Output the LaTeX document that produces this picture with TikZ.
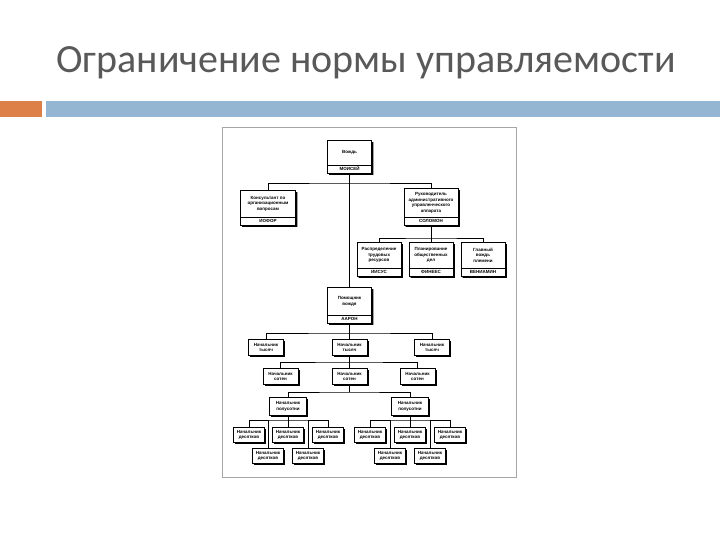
\documentclass[tikz,border=0pt]{standalone}
\usepackage{fontspec}
\setsansfont{Liberation Sans}
\newfontfamily\titlefont{Carlito}
\usetikzlibrary{shapes.multipart,shadows}
\definecolor{titlegray}{RGB}{89,89,89}
\definecolor{barorange}{RGB}{221,128,71}
\definecolor{barblue}{RGB}{148,182,210}
\newcommand{\upart}[3]{\parbox[c][#1pt][c]{#2pt}{\centering #3}}
\newcommand{\npart}[1]{\nodepart{two}\rule[-1.8pt]{0pt}{6pt}#1}

\begin{document}
\begin{tikzpicture}[x=1pt,y=-1pt,
		chart/.style={font=\sffamily\bfseries\fontsize{4.5}{5.5}\selectfont},
		shade/.style={drop shadow={shadow xshift=1.8pt,shadow yshift=-1.8pt,opacity=1,fill=black}},
		unit/.style={chart,shade,draw,line width=0.7pt,fill=white,rectangle split,rectangle split parts=2,inner sep=0.6pt,anchor=north},
		post/.style={chart,shade,draw,line width=0.7pt,fill=white,align=center,inner sep=0.4pt,minimum width=35,minimum height=16,anchor=north},
		link/.style={line width=0.6pt}]
		\useasboundingbox (0,0) rectangle (720,540);
		% Title and bars
		\node[anchor=base west,inner sep=0,text=titlegray,font=\titlefont\fontsize{40}{48}\selectfont] (title) at (56,73) {Ограничение нормы управляемости};
		\fill[barorange] (0,101) rectangle (42,117);
		\fill[barblue] (46,101) rectangle (720,117);
		% Frame of the chart
		\draw[gray!70,line width=0.6pt] (222,127) rectangle (516,477);
		% Top units
		\node[unit] (vozhd) at (349.5,140) {\upart{23}{43}{Вождь}\npart{МОИСЕЙ}};
		\node[unit] (konsult) at (268,190) {\upart{25}{54}{Консультант по\\организационным\\вопросам}\npart{ИОФОР}};
		\node[unit] (rukov) at (431,188) {\upart{27}{53}{Руководитель\\административного\\управленческого\\аппарата}\npart{СОЛОМОН}};
		\node[unit] (raspr) at (379,242) {\upart{24}{43}{Распределение\\трудовых\\ресурсов}\npart{ИИСУС}};
		\node[unit] (plan) at (431,242) {\upart{24}{43}{Планирование\\общественных\\дел}\npart{ФИНЕЕС}};
		\node[unit] (glavn) at (483,242) {\upart{24}{43}{Главный\\вождь\\племени}\npart{ВЕНИАМИН}};
		\node[unit] (pomosh) at (349.5,287) {\upart{26}{43}{Помощник\\вождя}\npart{ААРОН}};
		% Chiefs
		\node[post] (tys1) at (266,339) {Начальник\\тысяч};
		\node[post] (tys2) at (349.5,339) {Начальник\\тысяч};
		\node[post] (tys3) at (432,339) {Начальник\\тысяч};
		\node[post] (sot1) at (280.5,368) {Начальник\\сотен};
		\node[post] (sot2) at (349.5,368) {Начальник\\сотен};
		\node[post] (sot3) at (417.5,368) {Начальник\\сотен};
		\node[post,minimum width=37,minimum height=18] (pol1) at (288,397) {Начальник\\полусотни};
		\node[post,minimum width=37,minimum height=18] (pol2) at (410,397) {Начальник\\полусотни};
		\foreach \n/\x/\y in {1/249/427,2/268/448,3/288/427,4/308/448,5/328/427}
			\node[post,minimum width=31,minimum height=15] (dl\n) at (\x,\y) {Начальник\\десятков};
		\foreach \n/\x/\y in {1/370/427,2/390/448,3/410/427,4/430/448,5/450/427}
			\node[post,minimum width=31,minimum height=15] (dr\n) at (\x,\y) {Начальник\\десятков};
		% Connectors
		\coordinate (busA) at (349.5,183);
		\coordinate (busB) at (431,238);
		\coordinate (busC) at (349.5,333);
		\coordinate (busD) at (349.5,362);
		\coordinate (busE) at (349.5,392);
		\coordinate (busF) at (288,420);
		\coordinate (busG) at (410,420);
		\draw[link] (vozhd.south) -- (pomosh.north);
		\draw[link] (konsult.north) |- (busA) -| (rukov.north);
		\draw[link] (rukov.south) -- (plan.north);
		\draw[link] (raspr.north) |- (busB) -| (glavn.north);
		\draw[link] (pomosh.south) -- (tys2.north);
		\draw[link] (tys1.north) |- (busC) -| (tys3.north);
		\draw[link] (tys2.south) -- (sot2.north);
		\draw[link] (sot1.north) |- (busD) -| (sot3.north);
		\draw[link] (sot2.south) -- (busE);
		\draw[link] (pol1.north) |- (busE) -| (pol2.north);
		\draw[link] (pol1.south) -- (dl3.north);
		\draw[link] (dl1.north) |- (busF) -| (dl5.north);
		\draw[link] (pol2.south) -- (dr3.north);
		\draw[link] (dr1.north) |- (busG) -| (dr5.north);
		\foreach \n in {2,4} {
			\draw[link] (dl\n.north) -- (dl\n.north |- busF);
			\draw[link] (dr\n.north) -- (dr\n.north |- busG);
		}
	\end{tikzpicture}
\end{document}
